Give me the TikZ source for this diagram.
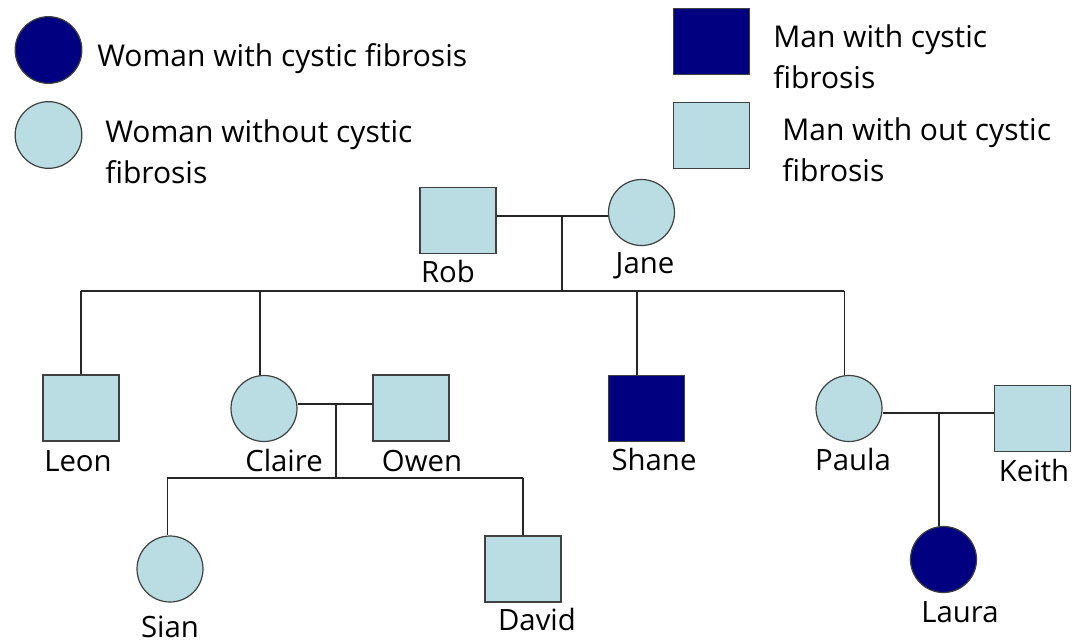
\documentclass[tikz,border=0pt]{standalone}
\usepackage{fontspec}
\setmainfont{Open Sans}
\definecolor{cfdark}{HTML}{000080}
\definecolor{cflight}{HTML}{B9DDE3}
\begin{document}
\begin{tikzpicture}[x=0.75pt,y=-0.75pt,
  person/.style={draw=black!75, line width=0.9pt, inner sep=0pt},
  female/.style={person, circle, minimum size=49.5pt, fill=cflight},
  male/.style={person, rectangle, minimum width=57pt, minimum height=49.5pt, fill=cflight},
  affected/.style={fill=cfdark},
  link/.style={line width=1.1pt, draw=black!85},
  namelabel/.style={anchor=base, inner sep=0pt, font=\fontsize{22}{26}\selectfont},
  legendtext/.style={anchor=base west, inner sep=0pt, align=left, font=\fontsize{22.5}{30.75}\selectfont}]
\useasboundingbox (0,0) rectangle (1072,643);

% legend (base anchor of a two-line text = baseline of its last line)
\node[female, affected, minimum size=50pt] (lwa) at (48.5,50) {};
\node[legendtext] (lwat) at (97,66) {Woman with cystic fibrosis};
\node[female, minimum size=50pt] (lwu) at (48.5,135) {};
\node[legendtext] (lwut) at (105,183) {Woman without cystic\\fibrosis};
\node[male, affected, minimum height=50pt] (lma) at (711.5,41.5) {};
\node[legendtext] (lmat) at (773,88) {Man with cystic\\fibrosis};
\node[male] (lmu) at (711.5,135.5) {};
\node[legendtext] (lmut) at (782,181) {Man with out cystic\\fibrosis};

% generation I
\node[male] (rob) at (458,220.5) {};
\node[female] (jane) at (641.5,212.5) {};
\node[namelabel] (robl) at (448,282) {Rob};
\node[namelabel] (janel) at (645,273) {Jane};

% generation II
\node[male] (leon) at (81,408) {};
\node[female] (claire) at (264,408.5) {};
\node[male] (owen) at (411,408) {};
\node[male, affected] (shane) at (646.5,408.5) {};
\node[female] (paula) at (849,408.5) {};
\node[male] (keith) at (1032.5,418.5) {};
\node[namelabel] (leonl) at (78,471) {Leon};
\node[namelabel] (clairel) at (284,471) {Claire};
\node[namelabel] (owenl) at (422,471) {Owen};
\node[namelabel] (shanel) at (654,470) {Shane};
\node[namelabel] (paulal) at (853,470) {Paula};
\node[namelabel] (keithl) at (1034,481) {Keith};

% generation III
\node[female] (sian) at (170,569) {};
\node[male] (david) at (523,569) {};
\node[female, affected] (laura) at (943.5,559.5) {};
\node[namelabel] (sianl) at (170,637) {Sian};
\node[namelabel] (davidl) at (537,630) {David};
\node[namelabel] (laural) at (960,622) {Laura};

% junction points
\coordinate (rj) at (562,216);
\coordinate (rjsib) at (562,291);
\coordinate (co) at (336,404);
\coordinate (cosib) at (336,478);
\coordinate (pk) at (939,413);

% connectors
\draw[link] (rob.east |- rj) -- (rj) -- (jane.west |- rj);
\draw[link] (rj) -- (rjsib);
\draw[link] (leon.north |- rjsib) -- ([xshift=-3.5pt]paula.north |- rjsib);
\draw[link] (leon.north |- rjsib) -- (leon.north);
\draw[link] ([xshift=-3pt]claire.north |- rjsib) -- ([xshift=-3pt]claire.north);
\draw[link] ([xshift=-7pt]shane.north |- rjsib) -- ([xshift=-7pt]shane.north);
\draw[link] ([xshift=-3.5pt]paula.north |- rjsib) -- ([xshift=-3.5pt]paula.north);

\draw[link] (claire.east |- co) -- (owen.west |- co);
\draw[link] (co) -- (cosib);
\draw[link] ([xshift=-2pt]sian.north |- cosib) -- (david.north |- cosib);
\draw[link] ([xshift=-2pt]sian.north |- cosib) -- ([xshift=-2pt]sian.north);
\draw[link] (david.north |- cosib) -- (david.north);

\draw[link] (paula.east |- pk) -- (keith.west |- pk);
\draw[link] (pk) -- (pk |- laura.north);
\end{tikzpicture}
\end{document}
